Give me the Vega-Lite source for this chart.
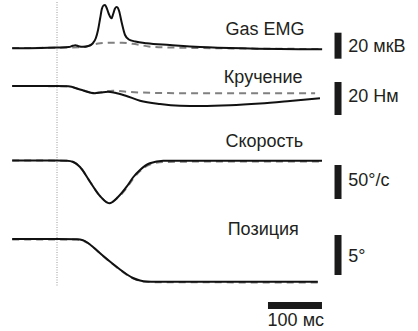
{
  "$schema": "https://vega.github.io/schema/vega-lite/v6.json",
  "width": 418,
  "height": 331,
  "padding": 0,
  "autosize": {"type": "fit", "contains": "padding"},
  "background": "white",
  "config": {"view": {"stroke": null}, "font": "Liberation Sans"},
  "datasets": {
    "traces": [
      {"trace": "emg", "kind": "dashed", "t": -83, "y": 48},
      {"trace": "emg", "kind": "dashed", "t": 24, "y": 47.5},
      {"trace": "emg", "kind": "dashed", "t": 50, "y": 47},
      {"trace": "emg", "kind": "dashed", "t": 67, "y": 44.5},
      {"trace": "emg", "kind": "dashed", "t": 80, "y": 43.3},
      {"trace": "emg", "kind": "dashed", "t": 100, "y": 42.7},
      {"trace": "emg", "kind": "dashed", "t": 120, "y": 42.7},
      {"trace": "emg", "kind": "dashed", "t": 140, "y": 43.8},
      {"trace": "emg", "kind": "dashed", "t": 154, "y": 45},
      {"trace": "emg", "kind": "dashed", "t": 170, "y": 46.5},
      {"trace": "emg", "kind": "dashed", "t": 209, "y": 47.5},
      {"trace": "emg", "kind": "dashed", "t": 491, "y": 49},

      {"trace": "emg", "kind": "solid", "t": -83, "y": 48.3},
      {"trace": "emg", "kind": "solid", "t": -30, "y": 48},
      {"trace": "emg", "kind": "solid", "t": 0, "y": 47.5},
      {"trace": "emg", "kind": "solid", "t": 22, "y": 47},
      {"trace": "emg", "kind": "solid", "t": 29, "y": 45.8},
      {"trace": "emg", "kind": "solid", "t": 34, "y": 45.2},
      {"trace": "emg", "kind": "solid", "t": 40, "y": 46.2},
      {"trace": "emg", "kind": "solid", "t": 48, "y": 46.8},
      {"trace": "emg", "kind": "solid", "t": 58, "y": 46},
      {"trace": "emg", "kind": "solid", "t": 66, "y": 43.5},
      {"trace": "emg", "kind": "solid", "t": 72, "y": 38},
      {"trace": "emg", "kind": "solid", "t": 76, "y": 30},
      {"trace": "emg", "kind": "solid", "t": 80, "y": 18},
      {"trace": "emg", "kind": "solid", "t": 83, "y": 9},
      {"trace": "emg", "kind": "solid", "t": 86, "y": 5.5},
      {"trace": "emg", "kind": "solid", "t": 89, "y": 5},
      {"trace": "emg", "kind": "solid", "t": 92, "y": 8},
      {"trace": "emg", "kind": "solid", "t": 96, "y": 14},
      {"trace": "emg", "kind": "solid", "t": 101, "y": 18.3},
      {"trace": "emg", "kind": "solid", "t": 104, "y": 14},
      {"trace": "emg", "kind": "solid", "t": 107, "y": 9},
      {"trace": "emg", "kind": "solid", "t": 110, "y": 7},
      {"trace": "emg", "kind": "solid", "t": 112, "y": 7.3},
      {"trace": "emg", "kind": "solid", "t": 115, "y": 11},
      {"trace": "emg", "kind": "solid", "t": 120, "y": 23},
      {"trace": "emg", "kind": "solid", "t": 126, "y": 35},
      {"trace": "emg", "kind": "solid", "t": 133, "y": 39.5},
      {"trace": "emg", "kind": "solid", "t": 145, "y": 41.5},
      {"trace": "emg", "kind": "solid", "t": 166, "y": 43.3},
      {"trace": "emg", "kind": "solid", "t": 209, "y": 45},
      {"trace": "emg", "kind": "solid", "t": 265, "y": 47},
      {"trace": "emg", "kind": "solid", "t": 357, "y": 48.5},
      {"trace": "emg", "kind": "solid", "t": 491, "y": 49.3},

      {"trace": "torque", "kind": "dashed", "t": -83, "y": 86},
      {"trace": "torque", "kind": "dashed", "t": 21, "y": 86.3},
      {"trace": "torque", "kind": "dashed", "t": 42.6, "y": 89.5},
      {"trace": "torque", "kind": "dashed", "t": 70.4, "y": 93},
      {"trace": "torque", "kind": "dashed", "t": 85, "y": 91.8},
      {"trace": "torque", "kind": "dashed", "t": 103.7, "y": 90.7},
      {"trace": "torque", "kind": "dashed", "t": 130, "y": 91.8},
      {"trace": "torque", "kind": "dashed", "t": 190.7, "y": 93},
      {"trace": "torque", "kind": "dashed", "t": 300, "y": 93.3},
      {"trace": "torque", "kind": "dashed", "t": 478, "y": 93.3},

      {"trace": "torque", "kind": "solid", "t": -83, "y": 86},
      {"trace": "torque", "kind": "solid", "t": 0, "y": 86},
      {"trace": "torque", "kind": "solid", "t": 21, "y": 86.3},
      {"trace": "torque", "kind": "solid", "t": 42.6, "y": 89.5},
      {"trace": "torque", "kind": "solid", "t": 70.4, "y": 93.3},
      {"trace": "torque", "kind": "solid", "t": 81.5, "y": 92.5},
      {"trace": "torque", "kind": "solid", "t": 94.4, "y": 91.7},
      {"trace": "torque", "kind": "solid", "t": 107.4, "y": 92.8},
      {"trace": "torque", "kind": "solid", "t": 126, "y": 95.5},
      {"trace": "torque", "kind": "solid", "t": 153.7, "y": 100.7},
      {"trace": "torque", "kind": "solid", "t": 190.7, "y": 104},
      {"trace": "torque", "kind": "solid", "t": 227.8, "y": 105.7},
      {"trace": "torque", "kind": "solid", "t": 264.8, "y": 106},
      {"trace": "torque", "kind": "solid", "t": 320.4, "y": 105.3},
      {"trace": "torque", "kind": "solid", "t": 376, "y": 103.5},
      {"trace": "torque", "kind": "solid", "t": 431.5, "y": 101},
      {"trace": "torque", "kind": "solid", "t": 487, "y": 98.3},

      {"trace": "velocity", "kind": "dashed", "t": -83, "y": 160.5},
      {"trace": "velocity", "kind": "dashed", "t": 18.5, "y": 160.7},
      {"trace": "velocity", "kind": "dashed", "t": 30.2, "y": 162},
      {"trace": "velocity", "kind": "dashed", "t": 42.6, "y": 167},
      {"trace": "velocity", "kind": "dashed", "t": 61.1, "y": 181.7},
      {"trace": "velocity", "kind": "dashed", "t": 79.6, "y": 196},
      {"trace": "velocity", "kind": "dashed", "t": 96.9, "y": 203},
      {"trace": "velocity", "kind": "dashed", "t": 113, "y": 197.5},
      {"trace": "velocity", "kind": "dashed", "t": 129, "y": 188},
      {"trace": "velocity", "kind": "dashed", "t": 140.7, "y": 179},
      {"trace": "velocity", "kind": "dashed", "t": 153.7, "y": 171},
      {"trace": "velocity", "kind": "dashed", "t": 172, "y": 164.5},
      {"trace": "velocity", "kind": "dashed", "t": 197, "y": 162},
      {"trace": "velocity", "kind": "dashed", "t": 300, "y": 161.5},
      {"trace": "velocity", "kind": "dashed", "t": 487, "y": 161.5},

      {"trace": "velocity", "kind": "solid", "t": -83, "y": 160.5},
      {"trace": "velocity", "kind": "solid", "t": 0, "y": 160.5},
      {"trace": "velocity", "kind": "solid", "t": 18.5, "y": 160.7},
      {"trace": "velocity", "kind": "solid", "t": 30.2, "y": 162},
      {"trace": "velocity", "kind": "solid", "t": 42.6, "y": 167},
      {"trace": "velocity", "kind": "solid", "t": 61.1, "y": 181.7},
      {"trace": "velocity", "kind": "solid", "t": 79.6, "y": 196},
      {"trace": "velocity", "kind": "solid", "t": 96.9, "y": 203.3},
      {"trace": "velocity", "kind": "solid", "t": 113, "y": 197},
      {"trace": "velocity", "kind": "solid", "t": 129, "y": 186.7},
      {"trace": "velocity", "kind": "solid", "t": 140.7, "y": 177.5},
      {"trace": "velocity", "kind": "solid", "t": 153.7, "y": 170},
      {"trace": "velocity", "kind": "solid", "t": 172, "y": 163.3},
      {"trace": "velocity", "kind": "solid", "t": 196.9, "y": 160.7},
      {"trace": "velocity", "kind": "solid", "t": 490.7, "y": 160.7},

      {"trace": "position", "kind": "dashed", "t": -83, "y": 239.5},
      {"trace": "position", "kind": "dashed", "t": 37, "y": 239.6},
      {"trace": "position", "kind": "dashed", "t": 48, "y": 240.6},
      {"trace": "position", "kind": "dashed", "t": 57.4, "y": 243.2},
      {"trace": "position", "kind": "dashed", "t": 66.7, "y": 247.2},
      {"trace": "position", "kind": "dashed", "t": 85.7, "y": 256.2},
      {"trace": "position", "kind": "dashed", "t": 103.7, "y": 264.3},
      {"trace": "position", "kind": "dashed", "t": 116.7, "y": 269.8},
      {"trace": "position", "kind": "dashed", "t": 129.6, "y": 274.8},
      {"trace": "position", "kind": "dashed", "t": 140.7, "y": 278.4},
      {"trace": "position", "kind": "dashed", "t": 153.7, "y": 281},
      {"trace": "position", "kind": "dashed", "t": 166.7, "y": 282.1},
      {"trace": "position", "kind": "dashed", "t": 483, "y": 282.5},

      {"trace": "position", "kind": "solid", "t": -83, "y": 239},
      {"trace": "position", "kind": "solid", "t": 0, "y": 239},
      {"trace": "position", "kind": "solid", "t": 37, "y": 239.2},
      {"trace": "position", "kind": "solid", "t": 48, "y": 240.3},
      {"trace": "position", "kind": "solid", "t": 57.4, "y": 243},
      {"trace": "position", "kind": "solid", "t": 66.7, "y": 247},
      {"trace": "position", "kind": "solid", "t": 85.7, "y": 256},
      {"trace": "position", "kind": "solid", "t": 103.7, "y": 264},
      {"trace": "position", "kind": "solid", "t": 116.7, "y": 269.5},
      {"trace": "position", "kind": "solid", "t": 129.6, "y": 274.5},
      {"trace": "position", "kind": "solid", "t": 140.7, "y": 278},
      {"trace": "position", "kind": "solid", "t": 153.7, "y": 280.5},
      {"trace": "position", "kind": "solid", "t": 166.7, "y": 281.5},
      {"trace": "position", "kind": "solid", "t": 181.5, "y": 281.7},
      {"trace": "position", "kind": "solid", "t": 483, "y": 281.7}
    ],
    "vbars": [
      {"t": 520.4, "y1": 32.7, "y2": 58.7},
      {"t": 520.4, "y1": 82, "y2": 115},
      {"t": 520.4, "y1": 165, "y2": 199},
      {"t": 520.4, "y1": 235, "y2": 275}
    ],
    "hbars": [
      {"t1": 390.7, "t2": 490.7, "y": 305.5}
    ],
    "labels": [
      {"t": 312, "y": 35, "label": "Gas EMG"},
      {"t": 309, "y": 82.7, "label": "Кручение"},
      {"t": 312, "y": 147.3, "label": "Скорость"},
      {"t": 316, "y": 235, "label": "Позиция"},
      {"t": 539.5, "y": 51.7, "label": "20 мкВ"},
      {"t": 539.5, "y": 101.7, "label": "20 Нм"},
      {"t": 539.5, "y": 185.7, "label": "50°/с"},
      {"t": 539.5, "y": 261.7, "label": "5°"},
      {"t": 390, "y": 326, "label": "100 мс"}
    ]
  },
  "encoding": {
    "x": {"type": "quantitative", "scale": {"domain": [-105.56, 668.52], "nice": false, "zero": false}, "axis": null},
    "y": {"type": "quantitative", "scale": {"domain": [0, 331], "nice": false, "zero": false, "reverse": true}, "axis": null}
  },
  "layer": [
    {
      "data": {"values": [{"t": 0, "y1": 2, "y2": 287}]},
      "mark": {"type": "rule", "color": "#999999", "strokeWidth": 1, "strokeDash": [1, 1.5]},
      "encoding": {"x": {"field": "t"}, "y": {"field": "y1"}, "y2": {"field": "y2"}}
    },
    {
      "data": {"name": "traces"},
      "transform": [{"filter": "datum.kind === 'dashed'"}],
      "mark": {"type": "line", "color": "#808080", "strokeWidth": 2, "strokeDash": [7, 5], "interpolate": "monotone"},
      "encoding": {"x": {"field": "t"}, "y": {"field": "y"}, "detail": {"field": "trace"}}
    },
    {
      "data": {"name": "traces"},
      "transform": [{"filter": "datum.kind === 'solid'"}],
      "mark": {"type": "line", "color": "#111111", "strokeWidth": 2, "interpolate": "monotone"},
      "encoding": {"x": {"field": "t"}, "y": {"field": "y"}, "detail": {"field": "trace"}}
    },
    {
      "data": {"name": "vbars"},
      "mark": {"type": "rule", "color": "#1a1a1a", "strokeWidth": 7},
      "encoding": {"x": {"field": "t"}, "y": {"field": "y1"}, "y2": {"field": "y2"}}
    },
    {
      "data": {"name": "hbars"},
      "mark": {"type": "rule", "color": "#1a1a1a", "strokeWidth": 7},
      "encoding": {"x": {"field": "t1"}, "x2": {"field": "t2"}, "y": {"field": "y"}}
    },
    {
      "data": {"name": "labels"},
      "mark": {"type": "text", "align": "left", "baseline": "alphabetic", "fontSize": 18, "font": "Liberation Sans", "color": "#231f20"},
      "encoding": {"x": {"field": "t"}, "y": {"field": "y"}, "text": {"field": "label"}}
    }
  ]
}
